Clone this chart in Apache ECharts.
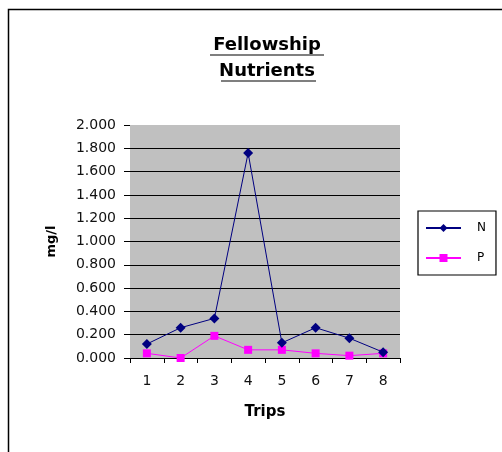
<!DOCTYPE html>
<html>
<head>
<meta charset="utf-8">
<script src="https://cdn.jsdelivr.net/npm/echarts@6/dist/echarts.min.js"></script>
<style>
  html, body { margin: 0; padding: 0; background: #fff; }
  #chart { width: 502px; height: 452px; }
</style>
</head>
<body>
<div id="chart"></div>
<script>
// Trip numbers and nutrient concentrations (mg/l)
const trips = ['1', '2', '3', '4', '5', '6', '7', '8'];
const nitrogen = [0.12, 0.26, 0.34, 1.76, 0.13, 0.26, 0.17, 0.05];
const phosphorus = [0.04, 0.00, 0.19, 0.07, 0.07, 0.04, 0.02, 0.04];
const titleLines = ['Fellowship', 'Nutrients'];

const chart = echarts.init(document.getElementById('chart'));
const FONT = 'DejaVu Sans';
const TITLE_X = 267;

chart.setOption({
  backgroundColor: '#ffffff',
  animation: false,
  graphic: [
    // outer frame
    { type: 'rect', shape: { x: 8.5, y: 9.5, width: 600, height: 600 },
      style: { fill: 'none', stroke: '#000', lineWidth: 1.5 }, z: 0 },
    // two-line underlined heading
    { type: 'text', x: TITLE_X, y: 36,
      style: { text: titleLines[0], font: 'bold 18px "' + FONT + '"', fill: '#000',
               align: 'center', verticalAlign: 'top' } },
    { type: 'line', shape: { x1: 210, y1: 55, x2: 324, y2: 55 },
      style: { stroke: '#000', lineWidth: 1.2 } },
    { type: 'text', x: TITLE_X, y: 62,
      style: { text: titleLines[1], font: 'bold 18px "' + FONT + '"', fill: '#000',
               align: 'center', verticalAlign: 'top' } },
    { type: 'line', shape: { x1: 221, y1: 81, x2: 316, y2: 81 },
      style: { stroke: '#000', lineWidth: 1.2 } }
  ],
  grid: {
    left: 130, right: 102, top: 125, bottom: 94,
    show: true, backgroundColor: '#c0c0c0', borderWidth: 0
  },
  legend: {
    orient: 'vertical',
    left: 418, top: 211,
    data: ['N', 'P'],
    itemWidth: 35, itemHeight: 10, itemGap: 18,
    padding: [11, 10, 11, 7],
    borderColor: '#000', borderWidth: 1.2,
    textStyle: { fontFamily: FONT, fontSize: 12, color: '#000', padding: [0, 0, 0, 11] }
  },
  xAxis: {
    type: 'category',
    data: trips,
    boundaryGap: true,
    name: 'Trips',
    nameLocation: 'middle',
    nameGap: 47,
    nameTextStyle: { fontFamily: FONT, fontWeight: 'bold', fontSize: 15, color: '#000' },
    axisLine: { lineStyle: { color: '#000', width: 1 } },
    axisTick: { show: true, length: 5, lineStyle: { color: '#000' } },
    axisLabel: { margin: 16, fontFamily: FONT, fontSize: 14, color: '#111' }
  },
  yAxis: {
    type: 'value',
    min: 0, max: 2, interval: 0.2,
    name: 'mg/l',
    nameLocation: 'middle',
    nameRotate: 90,
    nameGap: 72,
    nameTextStyle: { fontFamily: FONT, fontWeight: 'bold', fontSize: 13, color: '#000' },
    axisLine: { show: false },
    axisTick: { show: true, length: 6, lineStyle: { color: '#000' } },
    axisLabel: {
      margin: 14, fontFamily: FONT, fontSize: 14, color: '#111',
      formatter: v => v.toFixed(3)
    },
    splitLine: { show: true, showMaxLine: false, lineStyle: { color: '#000', width: 1 } }
  },
  series: [
    {
      name: 'N', type: 'line', data: nitrogen,
      color: '#000080',
      symbol: 'diamond', symbolSize: 10,
      lineStyle: { color: '#000080', width: 1 },
      itemStyle: { color: '#000080' },
      z: 3
    },
    {
      name: 'P', type: 'line', data: phosphorus,
      color: '#ff00ff',
      symbol: 'rect', symbolSize: 8,
      lineStyle: { color: '#ff00ff', width: 1 },
      itemStyle: { color: '#ff00ff' },
      z: 2
    }
  ]
});
</script>
</body>
</html>
